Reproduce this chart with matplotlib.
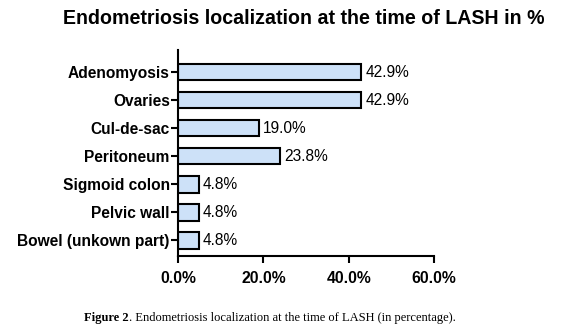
import matplotlib
matplotlib.use("Agg")
import matplotlib.pyplot as plt
from matplotlib.ticker import FuncFormatter

sites = ["Adenomyosis", "Ovaries", "Cul-de-sac", "Peritoneum",
         "Sigmoid colon", "Pelvic wall", "Bowel (unkown part)"]
percent = [42.9, 42.9, 19.0, 23.8, 4.8, 4.8, 4.8]
xticks = [0, 20, 40, 60]

plt.rcParams['font.family'] = ['Liberation Sans', 'DejaVu Sans']

fig = plt.figure(figsize=(5.69, 3.33), dpi=100)
ax = fig.add_axes([0.313, 0.231, 0.45, 0.619])

ypos = list(range(len(sites)))
ax.barh(ypos, percent, height=0.6, color='#cde1f8', edgecolor='black', linewidth=1.5)
for y, v in zip(ypos, percent):
    ax.annotate(f"{v:.1f}%", (v, y), xytext=(3, 0), textcoords='offset points',
                va='center', ha='left', fontsize=11.2)

ax.set_xlim(0, 60)
ax.set_ylim(6.57, -0.79)
ax.set_yticks(ypos)
ax.set_yticklabels(sites, fontsize=11.2, fontweight='bold')
ax.set_xticks(xticks)
ax.xaxis.set_major_formatter(FuncFormatter(lambda v, p: f"{v:.1f}%"))
for lab in ax.get_xticklabels():
    lab.set_fontweight('bold')
    lab.set_fontsize(11.3)
ax.tick_params(axis='both', width=1.5, length=5, color='black')
ax.tick_params(axis='x', pad=6)
ax.tick_params(axis='y', pad=1)
for side in ['top', 'right']:
    ax.spines[side].set_visible(False)
for side in ['left', 'bottom']:
    ax.spines[side].set_linewidth(1.5)

fig.text(0.533, 0.945, "Endometriosis localization at the time of LASH in %",
         ha='center', va='center', fontsize=14.1, fontweight='bold')

# caption: bold "Figure 2" followed by regular text, placed end to end
cap_bold = fig.text(84 / 569, 0.045, "Figure 2", family='Liberation Serif',
                    fontweight='bold', fontsize=9, ha='left', va='center')
fig.canvas.draw()
bb = cap_bold.get_window_extent()
fig.text(bb.x1 / fig.bbox.width, 0.045,
         ". Endometriosis localization at the time of LASH (in percentage).",
         family='Liberation Serif', fontsize=9, ha='left', va='center')

fig.savefig("out.png", dpi=100)
